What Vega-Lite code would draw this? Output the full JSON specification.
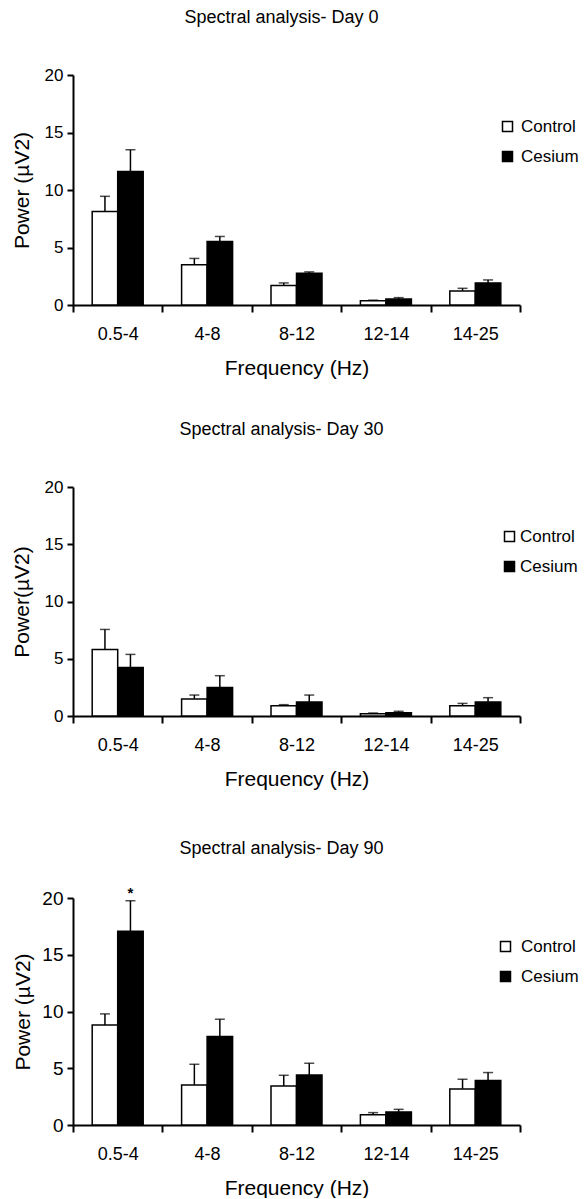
{
  "$schema": "https://vega.github.io/schema/vega-lite/v6.json",
  "background": "white",
  "padding": {"left": 11, "top": 8, "right": 0, "bottom": 0},
  "config": {
    "font": "Liberation Sans",
    "view": {"stroke": null},
    "axis": {"grid": false, "domainColor": "black", "domainWidth": 2, "tickColor": "black", "tickWidth": 2, "labelColor": "black", "titleColor": "black", "titleFontWeight": "normal"},
    "title": {"fontSize": 18, "fontWeight": "normal", "color": "black", "anchor": "middle", "offset": 39.5, "dx": -15}
  },
  "datasets": {
    "spectral": [
      {"day": 0, "freq": "0.5-4", "group": "Control", "mean": 8.14, "err": 9.45, "sig": ""},
      {"day": 0, "freq": "0.5-4", "group": "Cesium", "mean": 11.6, "err": 13.5, "sig": ""},
      {"day": 0, "freq": "4-8", "group": "Control", "mean": 3.5, "err": 4.05, "sig": ""},
      {"day": 0, "freq": "4-8", "group": "Cesium", "mean": 5.52, "err": 5.96, "sig": ""},
      {"day": 0, "freq": "8-12", "group": "Control", "mean": 1.69, "err": 1.92, "sig": ""},
      {"day": 0, "freq": "8-12", "group": "Cesium", "mean": 2.76, "err": 2.88, "sig": ""},
      {"day": 0, "freq": "12-14", "group": "Control", "mean": 0.38, "err": 0.42, "sig": ""},
      {"day": 0, "freq": "12-14", "group": "Cesium", "mean": 0.52, "err": 0.64, "sig": ""},
      {"day": 0, "freq": "14-25", "group": "Control", "mean": 1.22, "err": 1.45, "sig": ""},
      {"day": 0, "freq": "14-25", "group": "Cesium", "mean": 1.92, "err": 2.18, "sig": ""},
      {"day": 30, "freq": "0.5-4", "group": "Control", "mean": 5.81, "err": 7.56, "sig": ""},
      {"day": 30, "freq": "0.5-4", "group": "Cesium", "mean": 4.24, "err": 5.38, "sig": ""},
      {"day": 30, "freq": "4-8", "group": "Control", "mean": 1.48, "err": 1.83, "sig": ""},
      {"day": 30, "freq": "4-8", "group": "Cesium", "mean": 2.5, "err": 3.52, "sig": ""},
      {"day": 30, "freq": "8-12", "group": "Control", "mean": 0.9, "err": 0.99, "sig": ""},
      {"day": 30, "freq": "8-12", "group": "Cesium", "mean": 1.22, "err": 1.83, "sig": ""},
      {"day": 30, "freq": "12-14", "group": "Control", "mean": 0.2, "err": 0.26, "sig": ""},
      {"day": 30, "freq": "12-14", "group": "Cesium", "mean": 0.29, "err": 0.41, "sig": ""},
      {"day": 30, "freq": "14-25", "group": "Control", "mean": 0.9, "err": 1.1, "sig": ""},
      {"day": 30, "freq": "14-25", "group": "Cesium", "mean": 1.22, "err": 1.6, "sig": ""},
      {"day": 90, "freq": "0.5-4", "group": "Control", "mean": 8.82, "err": 9.79, "sig": ""},
      {"day": 90, "freq": "0.5-4", "group": "Cesium", "mean": 17.06, "err": 19.76, "sig": "*"},
      {"day": 90, "freq": "4-8", "group": "Control", "mean": 3.53, "err": 5.35, "sig": ""},
      {"day": 90, "freq": "4-8", "group": "Cesium", "mean": 7.79, "err": 9.32, "sig": ""},
      {"day": 90, "freq": "8-12", "group": "Control", "mean": 3.44, "err": 4.38, "sig": ""},
      {"day": 90, "freq": "8-12", "group": "Cesium", "mean": 4.41, "err": 5.44, "sig": ""},
      {"day": 90, "freq": "12-14", "group": "Control", "mean": 0.91, "err": 1.09, "sig": ""},
      {"day": 90, "freq": "12-14", "group": "Cesium", "mean": 1.15, "err": 1.38, "sig": ""},
      {"day": 90, "freq": "14-25", "group": "Control", "mean": 3.18, "err": 4.03, "sig": ""},
      {"day": 90, "freq": "14-25", "group": "Cesium", "mean": 3.91, "err": 4.62, "sig": ""}
    ]
  },
  "spacing": 50,
  "resolve": {"scale": {"fill": "independent"}, "legend": {"fill": "independent"}},
  "vconcat": [
    {
      "spacing": 42,
      "resolve": {"scale": {"fill": "independent"}, "legend": {"fill": "independent"}},
      "vconcat": [
        {
          "title": "Spectral analysis- Day 0",
          "width": 447, "height": 230,
          "data": {"name": "spectral"},
          "transform": [{"filter": "datum.day == 0"}],
          "encoding": {
            "x": {"field": "freq", "type": "nominal", "sort": ["0.5-4", "4-8", "8-12", "12-14", "14-25"], "scale": {"paddingInner": 0, "paddingOuter": 0},
              "axis": {"title": "Frequency (Hz)", "labelAngle": 0, "tickBand": "extent", "tickSize": 7, "labelFontSize": 18, "labelPadding": 13, "titleFontSize": 21, "titlePadding": 14}},
            "xOffset": {"field": "group", "type": "nominal", "sort": ["Control", "Cesium"], "scale": {"paddingInner": 0, "paddingOuter": 0.753}},
            "y": {"field": "mean", "type": "quantitative", "title": "Power (µV2)", "scale": {"domain": [0, 20]},
              "axis": {"values": [0, 5, 10, 15, 20], "tickSize": 6, "labelFontSize": 17, "labelPadding": 4, "titleFontSize": 21, "titlePadding": 12}}
          },
          "layer": [
            {"mark": {"type": "rule", "stroke": "black", "strokeWidth": 1.5}, "encoding": {"y": {"field": "err", "type": "quantitative", "title": "Power (µV2)"}, "y2": {"field": "mean"}}},
            {"mark": {"type": "tick", "color": "black", "size": 10, "thickness": 1.5, "orient": "horizontal"}, "encoding": {"y": {"field": "err", "type": "quantitative", "title": "Power (µV2)"}}},
            {"mark": {"type": "bar", "stroke": "black", "strokeWidth": 1.5},
              "encoding": {"fill": {"field": "group", "type": "nominal", "scale": {"domain": ["Control", "Cesium"], "range": ["white", "black"]},
                "legend": {"title": null, "orient": "none", "legendX": 426, "legendY": 43, "symbolType": "square", "symbolSize": 100, "symbolStrokeColor": "black", "symbolStrokeWidth": 1.5, "labelFontSize": 17, "labelOffset": 5, "rowPadding": 12, "labelColor": "black", "padding": 0}}}}
          ]
        },
        {
          "title": "Spectral analysis- Day 30",
          "width": 447, "height": 229,
          "data": {"name": "spectral"},
          "transform": [{"filter": "datum.day == 30"}],
          "encoding": {
            "x": {"field": "freq", "type": "nominal", "sort": ["0.5-4", "4-8", "8-12", "12-14", "14-25"], "scale": {"paddingInner": 0, "paddingOuter": 0},
              "axis": {"title": "Frequency (Hz)", "labelAngle": 0, "tickBand": "extent", "tickSize": 7, "labelFontSize": 18, "labelPadding": 13, "titleFontSize": 21, "titlePadding": 14}},
            "xOffset": {"field": "group", "type": "nominal", "sort": ["Control", "Cesium"], "scale": {"paddingInner": 0, "paddingOuter": 0.753}},
            "y": {"field": "mean", "type": "quantitative", "title": "Power(µV2)", "scale": {"domain": [0, 20]},
              "axis": {"values": [0, 5, 10, 15, 20], "tickSize": 6, "labelFontSize": 17, "labelPadding": 4, "titleFontSize": 21, "titlePadding": 12}}
          },
          "layer": [
            {"mark": {"type": "rule", "stroke": "black", "strokeWidth": 1.5}, "encoding": {"y": {"field": "err", "type": "quantitative", "title": "Power(µV2)"}, "y2": {"field": "mean"}}},
            {"mark": {"type": "tick", "color": "black", "size": 10, "thickness": 1.5, "orient": "horizontal"}, "encoding": {"y": {"field": "err", "type": "quantitative", "title": "Power(µV2)"}}},
            {"mark": {"type": "bar", "stroke": "black", "strokeWidth": 1.5},
              "encoding": {"fill": {"field": "group", "type": "nominal", "scale": {"domain": ["Control", "Cesium"], "range": ["white", "black"]},
                "legend": {"title": null, "orient": "none", "legendX": 428, "legendY": 41, "symbolType": "square", "symbolSize": 100, "symbolStrokeColor": "black", "symbolStrokeWidth": 1.5, "labelFontSize": 17, "labelOffset": 2, "rowPadding": 12, "labelColor": "black", "padding": 0}}}}
          ]
        }
      ]
    },
    {
      "title": {"text": "Spectral analysis- Day 90", "offset": 28},
      "width": 447, "height": 227,
      "data": {"name": "spectral"},
      "transform": [{"filter": "datum.day == 90"}],
      "encoding": {
        "x": {"field": "freq", "type": "nominal", "sort": ["0.5-4", "4-8", "8-12", "12-14", "14-25"], "scale": {"paddingInner": 0, "paddingOuter": 0},
          "axis": {"title": "Frequency (Hz)", "labelAngle": 0, "tickBand": "extent", "tickSize": 7, "labelFontSize": 18, "labelPadding": 13, "titleFontSize": 21, "titlePadding": 14}},
        "xOffset": {"field": "group", "type": "nominal", "sort": ["Control", "Cesium"], "scale": {"paddingInner": 0, "paddingOuter": 0.753}},
        "y": {"field": "mean", "type": "quantitative", "title": "Power (µV2)", "scale": {"domain": [0, 20]},
          "axis": {"values": [0, 5, 10, 15, 20], "tickSize": 6, "labelFontSize": 19, "labelPadding": 4, "titleFontSize": 21, "titlePadding": 8}}
      },
      "layer": [
        {"mark": {"type": "rule", "stroke": "black", "strokeWidth": 1.5}, "encoding": {"y": {"field": "err", "type": "quantitative", "title": "Power (µV2)"}, "y2": {"field": "mean"}}},
        {"mark": {"type": "tick", "color": "black", "size": 10, "thickness": 1.5, "orient": "horizontal"}, "encoding": {"y": {"field": "err", "type": "quantitative", "title": "Power (µV2)"}}},
        {"mark": {"type": "bar", "stroke": "black", "strokeWidth": 1.5},
          "encoding": {"fill": {"field": "group", "type": "nominal", "scale": {"domain": ["Control", "Cesium"], "range": ["white", "black"]},
            "legend": {"title": null, "orient": "none", "legendX": 424, "legendY": 40, "symbolType": "square", "symbolSize": 100, "symbolStrokeColor": "black", "symbolStrokeWidth": 1.5, "labelFontSize": 17, "labelOffset": 7, "rowPadding": 12, "labelColor": "black", "padding": 0}}}},
        {"mark": {"type": "text", "baseline": "bottom", "dy": 0, "fontSize": 15, "fontWeight": "bold", "color": "black"},
          "encoding": {"y": {"field": "err", "type": "quantitative", "title": "Power (µV2)"}, "text": {"field": "sig"}}}
      ]
    }
  ]
}
